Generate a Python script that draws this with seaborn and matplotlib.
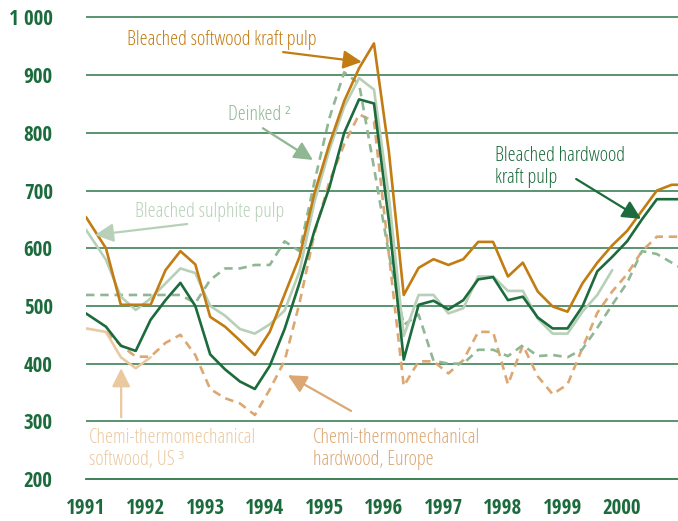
import numpy as np
import pandas as pd
import matplotlib
matplotlib.use("Agg")
import matplotlib.pyplot as plt
from matplotlib import font_manager
from matplotlib.font_manager import FontProperties
import seaborn as sns

# Quarterly pulp prices, 1991-2000 (USD per tonne)
quarter = np.r_[1991.0, 1991.085 + 0.25 * np.arange(1, 41)]

softwood_kraft = [654, 600, 502, 502, 502, 562, 595, 572, 481, 464, 440, 415, 455, 520,
                  585, 695, 780, 855, 912, 955, 768, 519, 566, 581, 571, 581, 611, 611,
                  551, 575, 525, 499, 490, 539, 575, 605, 630, 665, 700, 710, 710]
hardwood_kraft = [487, 464, 431, 422, 476, 510, 540, 500, 416, 390, 369, 356, 396, 460,
                  540, 630, 705, 800, 858, 851, 648, 407, 502, 509, 494, 510, 546, 550,
                  510, 516, 480, 461, 461, 499, 560, 585, 612, 650, 685, 685, 685]
sulphite = [632, 580, 516, 493, 513, 539, 565, 557, 500, 483, 460, 452, 468, 492,
            560, 680, 770, 845, 895, 875, 690, 448, 519, 519, 487, 496, 551, 551,
            526, 526, 478, 452, 452, 490, 519, 562, None, None, None, None, None]
deinked = [519, 519, 519, 519, 519, 519, 519, 505, 545, 565, 565, 571, 571, 612,
           595, 715, 825, 905, 885, 740, 590, 467, 485, 405, 400, 400, 424, 424,
           413, 432, 413, 415, 411, 425, 462, 502, 540, 595, 590, 575, 560]
ctmp_softwood_us = [461, 455, 411, 392, 411] + [None] * 36
ctmp_hardwood_eu = [None, 455, 432, 412, 412, 436, 450, 415, 356, 340, 331, 311, 355, 405,
                    505, 625, 715, 780, 832, 820, 590, 361, 404, 404, 383, 406, 455, 455,
                    364, 432, 378, 347, 364, 427, 488, 525, 555, 595, 620, 620, 620]

y_ticks = [200, 300, 400, 500, 600, 700, 800, 900, 1000]
x_ticks = [1991, 1992, 1993, 1994, 1995, 1996, 1997, 1998, 1999, 2000]

GREEN = "#1b6b3c"
ORANGE = "#c27c12"
SULPHITE = "#b7d0b7"
DEINKED = "#8fb793"
TAN_LIGHT = "#ebc9a0"
TAN = "#dca772"
GRID = "#2d7749"

sns.set_theme(style="white")
plt.rcParams["font.family"] = ["Liberation Sans", "DejaVu Sans"]


def _weight(f):
    w = f.weight
    if isinstance(w, str):
        w = font_manager.weight_dict.get(w, 400)
    return int(w)


def condensed_font(target_weight):
    """Pick an installed narrow/condensed sans face closest to the wanted weight."""
    preferred = ["liberation sans narrow", "noto sans", "open sans", "roboto", "lato"]
    best, best_score = None, None
    for f in font_manager.fontManager.ttflist:
        name = f.name.lower()
        path = f.fname.lower()
        tag = name + " " + path
        narrow = ("narrow" in tag or "condensed" in tag or "cond" in path
                  or f.stretch in ("condensed", "semi-condensed"))
        if not narrow or f.style != "normal":
            continue
        if "extra" in tag or "ultra" in tag or "italic" in tag or "mono" in tag:
            continue
        rank = next((i for i, p in enumerate(preferred) if name.startswith(p)), len(preferred))
        score = (rank, abs(_weight(f) - target_weight))
        if best_score is None or score < best_score:
            best, best_score = f, score
    if best is None:
        return FontProperties(family=["Liberation Sans", "DejaVu Sans"],
                              weight="bold" if target_weight > 500 else "normal")
    return FontProperties(fname=best.fname)


label_font = condensed_font(400)
tick_font = condensed_font(600)

fig = plt.figure(figsize=(6.78, 5.21), dpi=100)
ax = fig.add_axes([86 / 678, 1 - 479 / 521, 1 - 86 / 678, (479 - 11.7) / 521])
renderer = fig.canvas.get_renderer()


def fitted_size(fp, sample, width_px):
    """Font size giving the sample string the requested width in pixels."""
    t = fig.text(0, 0, sample, fontproperties=fp, fontsize=20)
    w = t.get_window_extent(renderer).width
    t.remove()
    return 20 * width_px / w


label_size = fitted_size(label_font, "Bleached softwood kraft pulp", 190)
tick_size = fitted_size(tick_font, "1992", 39)

df = pd.DataFrame({
    "quarter": quarter,
    "softwood": softwood_kraft,
    "hardwood": hardwood_kraft,
    "sulphite": sulphite,
    "deinked": deinked,
    "ctmp_us": ctmp_softwood_us,
    "ctmp_eu": ctmp_hardwood_eu,
}).astype(float)

for y in y_ticks[1:]:
    ax.axhline(y, color=GRID, lw=1.1, zorder=1)

series = [
    ("ctmp_eu", TAN, (0, (3.2, 2.2))),
    ("deinked", DEINKED, (0, (3.2, 2.2))),
    ("ctmp_us", TAN_LIGHT, "-"),
    ("sulphite", SULPHITE, "-"),
    ("hardwood", GREEN, "-"),
    ("softwood", ORANGE, "-"),
]
for col, color, ls in series:
    sub = df[["quarter", col]].dropna()
    sns.lineplot(data=sub, x="quarter", y=col, ax=ax, color=color, linewidth=1.9,
                 linestyle=ls, zorder=3)

ax.set_xlim(1991, 2000.94)
ax.set_ylim(200, 1010)
ax.set_xlabel("")
ax.set_ylabel("")
for side in ["top", "right", "left"]:
    ax.spines[side].set_visible(False)
ax.spines["bottom"].set_color(GRID)
ax.spines["bottom"].set_linewidth(1.3)

ax.set_yticks(y_ticks)
ax.set_yticklabels([f"{v:,}".replace(",", " ") for v in y_ticks])
ax.set_xticks(x_ticks)
ax.set_xticklabels([str(v) for v in x_ticks])
ax.tick_params(axis="y", length=0, pad=24, labelcolor=GREEN)
ax.tick_params(axis="x", length=5, width=1.3, color=GRID, direction="out", pad=9,
               labelcolor=GREEN)
for lab in ax.get_xticklabels() + ax.get_yticklabels():
    lab.set_fontproperties(tick_font)
    lab.set_fontsize(tick_size)


def label(text, xy_text, xy_arrow_from, xy_arrow_to, color, ha="center"):
    ax.text(*xy_text, text, color=color, fontproperties=label_font, fontsize=label_size,
            ha=ha, va="center", linespacing=1.15, zorder=5)
    ax.annotate("", xy=xy_arrow_to, xytext=xy_arrow_from,
                arrowprops=dict(arrowstyle="-|>,head_length=0.8,head_width=0.4",
                                color=color, lw=1.6, shrinkA=0, shrinkB=0,
                                mutation_scale=14), zorder=5)


label("Bleached softwood kraft pulp", (1993.28, 961), (1994.31, 940), (1995.63, 923), ORANGE)
label("Deinked ²", (1993.92, 831), (1993.97, 808), (1994.81, 753), DEINKED)
label("Bleached sulphite pulp", (1993.07, 663), (1992.70, 642), (1991.15, 623), SULPHITE)
label("Bleached hardwood\nkraft pulp", (1997.87, 741), (1999.23, 720), (2000.32, 651), GREEN,
      ha="left")
label("Chemi-thermomechanical\nsoftwood, US ³", (1991.05, 252), (1991.59, 307), (1991.59, 392),
      TAN_LIGHT, ha="left")
label("Chemi-thermomechanical\nhardwood, Europe", (1994.81, 252), (1995.45, 318), (1994.39, 380),
      TAN, ha="left")

fig.savefig("out.png", dpi=100)
